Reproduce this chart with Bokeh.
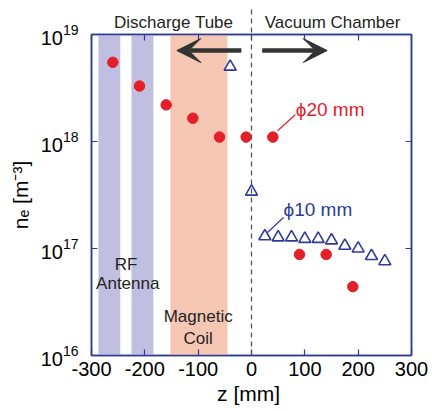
from bokeh.plotting import figure
from bokeh.models import (LogAxis, LinearAxis, Range1d, Label, Arrow, VeeHead,
                          BoxAnnotation, FixedTicker, CustomJSTickFormatter)
from bokeh.embed import file_html
from bokeh.resources import INLINE

# ---- data ----
z_phi20 = [-260, -210, -160, -110, -60, -10, 40, 90, 140, 190]
ne_phi20 = [5.5e18, 3.3e18, 2.2e18, 1.65e18, 1.1e18, 1.1e18, 1.1e18, 8.8e16, 8.8e16, 4.4e16]
z_phi10 = [-40, 0, 25, 50, 75, 100, 125, 150, 175, 200, 225, 250]
ne_phi10 = [5.0e18, 3.4e17, 1.3e17, 1.27e17, 1.27e17, 1.23e17, 1.23e17, 1.19e17, 1.06e17, 1.0e17, 8.5e16, 7.6e16]
antenna_bands = [(-287, -246), (-225, -184)]
coil_band = (-152, -45)
x_ticks = [-300, -200, -100, 0, 100, 200, 300]
region_pos = [-146, 152]
region_names = ["Discharge Tube", "Vacuum Chamber"]

FRAME = "#2E3C96"
RED = "#E3202A"
TXT = "#231F20"
FONT = "Liberation Sans"

p = figure(width=432, height=411, output_backend="svg", toolbar_location=None,
           y_axis_type="log", x_range=Range1d(-300, 300), y_range=Range1d(1e16, 1e19),
           min_border_left=91, min_border_right=21, min_border_top=34, min_border_bottom=56)
p.background_fill_color = "white"
p.border_fill_color = "white"
p.grid.visible = False
p.outline_line_color = FRAME
p.outline_line_width = 1.5

# axes styling
for ax in [p.xaxis[0], p.yaxis[0]]:
    ax.axis_line_color = FRAME
    ax.axis_line_width = 1.5
    ax.major_tick_line_color = FRAME
    ax.major_tick_line_width = 1.2
    ax.major_tick_in = 6
    ax.major_tick_out = 0
    ax.minor_tick_line_color = None
    ax.major_label_text_font = FONT
    ax.major_label_text_font_size = "20px"
    ax.major_label_text_color = "black"
    ax.axis_label_text_font = FONT
    ax.axis_label_text_font_size = "21px"
    ax.axis_label_text_font_style = "normal"
    ax.axis_label_text_color = "black"
p.xaxis[0].ticker = FixedTicker(ticks=x_ticks)
p.xaxis[0].formatter = CustomJSTickFormatter(code="return tick.toString();")
p.xaxis[0].axis_label = "z  [mm]"
p.xaxis[0].major_label_standoff = 6
p.xaxis[0].axis_label_standoff = 3
p.yaxis[0].axis_label = "nₑ [m⁻³]"
p.yaxis[0].major_label_standoff = 9
p.yaxis[0].axis_label_standoff = 6

# top axis: inner ticks at hundreds (minor) + region names (major labels)
top = LinearAxis(ticker=FixedTicker(ticks=region_pos, minor_ticks=x_ticks))
top.axis_line_color = FRAME
top.axis_line_width = 1.5
top.major_tick_line_color = None
top.minor_tick_line_color = FRAME
top.minor_tick_line_width = 1.2
top.minor_tick_in = 6
top.minor_tick_out = 0
top.major_tick_in = 0
top.major_tick_out = 0
top.major_label_overrides = {v: n for v, n in zip(region_pos, region_names)}
top.major_label_text_font = FONT
top.major_label_text_font_size = "17px"
top.major_label_text_color = TXT
top.major_label_standoff = 3
p.add_layout(top, "above")

# outer top axis used only for the dashed boundary continuing above the frame
dash_top = LinearAxis(ticker=FixedTicker(ticks=[0]))
dash_top.axis_line_color = None
dash_top.major_tick_line_color = "#555555"
dash_top.major_tick_line_width = 1.3
dash_top.major_tick_line_dash = "5 4"
dash_top.major_tick_in = 24
dash_top.major_tick_out = 0
dash_top.minor_tick_line_color = None
dash_top.major_label_text_font_size = "2px"
dash_top.major_label_text_color = None
dash_top.major_label_standoff = 0
p.add_layout(dash_top, "above")

right = LogAxis()
right.axis_line_color = FRAME
right.axis_line_width = 1.5
right.major_tick_line_color = FRAME
right.major_tick_line_width = 1.2
right.major_tick_in = 6
right.major_tick_out = 0
right.minor_tick_line_color = None
right.major_label_text_font_size = "2px"
right.major_label_text_color = None
right.major_label_standoff = 0
p.add_layout(right, "right")

# shaded regions
for l, r in antenna_bands:
    p.add_layout(BoxAnnotation(left=l, right=r, fill_color="#C1BFE0", fill_alpha=1.0,
                               line_color=None, level="underlay"))
p.add_layout(BoxAnnotation(left=coil_band[0], right=coil_band[1], fill_color="#F5C7B3",
                           fill_alpha=1.0, line_color=None, level="underlay"))

# dashed boundary line inside the frame
p.add_layout(Arrow(x_start=0, x_end=0, y_start=1e16, y_end=1e19, end=None,
                   line_color="#555555", line_width=1.3, line_dash="5 4"))

# big arrows
p.add_layout(Arrow(x_start=-19, x_end=-140, y_start=10**18.85, y_end=10**18.85,
                   line_color="#333333", line_width=4.5,
                   end=VeeHead(size=24, fill_color="#333333", line_color="#333333")))
p.add_layout(Arrow(x_start=20, x_end=142, y_start=10**18.85, y_end=10**18.85,
                   line_color="#333333", line_width=4.5,
                   end=VeeHead(size=24, fill_color="#333333", line_color="#333333")))

# data
p.scatter(z_phi20, ne_phi20, marker="circle", size=10.5, fill_color=RED, line_color=RED)
p.scatter(z_phi10, ne_phi10, marker="triangle", size=12, fill_color="white",
          line_color=FRAME, line_width=1.6)

# leader lines
p.line([49, 82], [10**18.10, 10**18.25], line_color=RED, line_width=1.2)
p.line([30, 60], [10**17.15, 10**17.29], line_color=FRAME, line_width=1.2)

def lab(x, y, t, color=TXT, size="17px", align="center"):
    p.add_layout(Label(x=x, y=y, text=t, text_font=FONT, text_font_size=size,
                       text_color=color, text_align=align, text_baseline="middle"))

lab(83, 10**18.30, "ϕ20 mm", RED, "19px", "left")
lab(60, 10**17.36, "ϕ10 mm", FRAME, "19px", "left")
lab(-235, 10**16.85, "RF")
lab(-232, 10**16.67, "Antenna")
lab(-100, 10**16.36, "Magnetic")
lab(-100, 10**16.16, "Coil")

open("out.html", "w").write(file_html(p, INLINE))
